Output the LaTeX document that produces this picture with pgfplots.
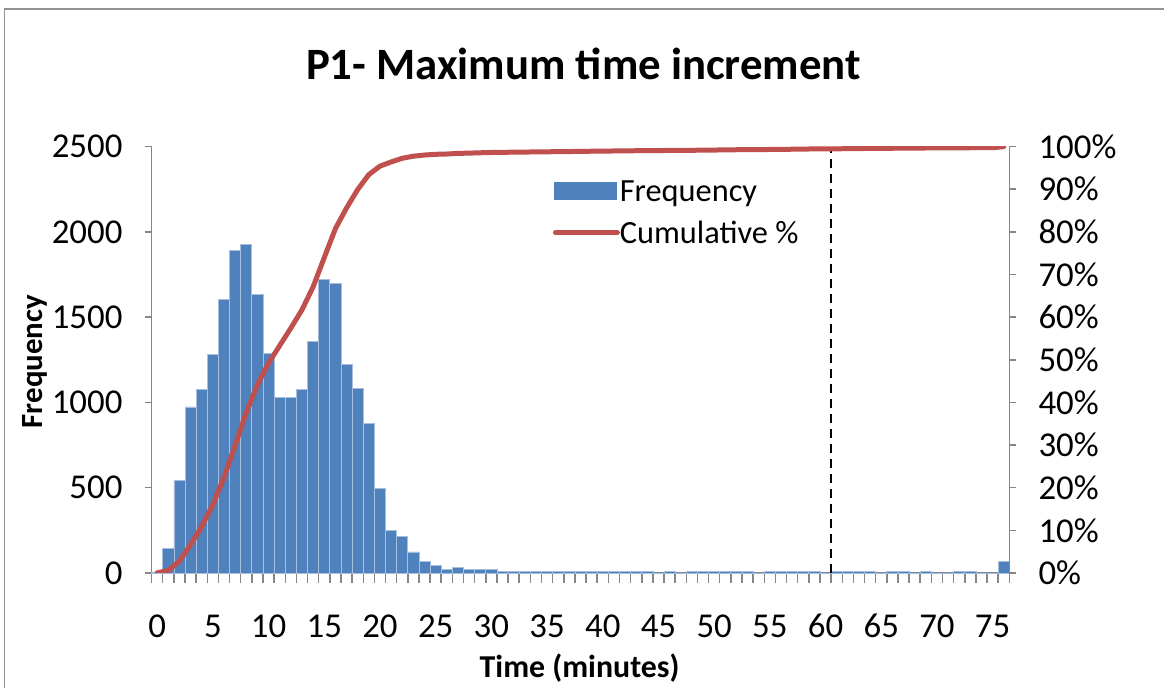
\documentclass[border=0pt]{standalone}
\usepackage{pgfplots}
\usepackage{pgfplotstable}
\pgfplotsset{compat=1.18}
\usepackage{fontspec}
\setmainfont{Carlito}

\definecolor{barblue}{RGB}{79,129,189}
\definecolor{baredge}{RGB}{167,191,222}
\definecolor{cumred}{RGB}{192,80,77}
\definecolor{axisgray}{RGB}{134,134,134}

\newcommand{\tickfont}{\fontsize{35}{40}\selectfont}
\newcommand{\legendfont}{\fontsize{32.5}{38}\selectfont}

% bin (minutes), count, cumulative share in percent
\pgfplotstableread{
bin freq cum
0 6 0.02
1 146 0.60
2 543 2.76
3 973 6.64
4 1074 10.92
5 1279 16.01
6 1605 22.41
7 1890 29.93
8 1924 37.60
9 1631 44.10
10 1289 49.23
11 1029 53.33
12 1029 57.43
13 1074 61.71
14 1357 67.11
15 1723 73.98
16 1699 80.75
17 1221 85.61
18 1084 89.93
19 879 93.43
20 498 95.41
21 248 96.40
22 215 97.26
23 123 97.75
24 68 98.02
25 43 98.19
26 19 98.26
27 33 98.40
28 19 98.47
29 19 98.55
30 19 98.62
31 8 98.65
32 8 98.69
33 8 98.72
34 8 98.75
35 8 98.78
36 8 98.81
37 8 98.84
38 8 98.88
39 8 98.91
40 8 98.94
41 8 98.97
42 8 99.00
43 8 99.03
44 8 99.07
45 0 99.07
46 8 99.10
47 0 99.10
48 8 99.13
49 8 99.16
50 8 99.19
51 8 99.23
52 8 99.26
53 8 99.29
54 0 99.29
55 8 99.32
56 8 99.35
57 8 99.38
58 8 99.42
59 8 99.45
60 0 99.45
61 8 99.48
62 8 99.51
63 8 99.54
64 8 99.57
65 0 99.57
66 8 99.61
67 8 99.64
68 0 99.64
69 8 99.67
70 0 99.67
71 0 99.67
72 8 99.70
73 8 99.73
74 0 99.73
75 0 99.73
76 68 100.00
}\histdata

% threshold marker at the 60-minute bin edge
\pgfplotstableread{
x y
60.5 0
60.5 2500
}\limitline

\begin{document}
\begin{tikzpicture}[x=1bp,y=1bp]
% page extent
\path (0,0) rectangle (1165,688);
% chart area frame
\draw[axisgray!90, line width=1.5bp] (4.5,0) -- (4.5,679) -- (1165,679);

\node[anchor=base, inner sep=0pt, font=\fontsize{45}{54}\selectfont\bfseries] at (584,608) {P1- Maximum time increment};
\node[anchor=base, inner sep=0pt, font=\fontsize{32}{38}\selectfont\bfseries] at (580,10) {Time (minutes)};
\node[anchor=base, inner sep=0pt, rotate=90, font=\fontsize{31}{37}\selectfont\bfseries] at (42.7,326) {Frequency};

\begin{axis}[
  at={(151.7bp,114.7bp)}, anchor=south west,
  scale only axis, width=858.3bp, height=426.6bp,
  xmin=-0.5, xmax=76.5, ymin=0, ymax=2500,
  axis x line=bottom, axis y line=left,
  axis line style={-, axisgray, line width=1.5bp},
  tick align=outside,
  xtick={0,5,...,75},
  major x tick style={draw=none},
  minor xtick={-0.5,0.5,...,76.5},
  minor tick length=10bp,
  major tick length=7bp,
  every tick/.style={axisgray, line width=1.5bp},
  minor x tick style={axisgray, line width=1.5bp},
  ytick={0,500,1000,1500,2000,2500},
  yticklabels={0,500,1000,1500,2000,2500},
  xticklabel style={font=\tickfont, anchor=base, inner sep=0pt, yshift=-57.4bp},
  yticklabel style={font=\tickfont, anchor=east, inner sep=0pt, xshift=-22bp},
  /pgf/number format/assume math mode=true,
  ybar, bar width=1,
  clip=false,
]
\addplot[fill=barblue, draw=baredge, line width=0.75bp, bar shift=0pt] table[x=bin, y=freq] {\histdata};
\addplot[black, line width=1.5bp, dash pattern=on 9bp off 6bp, sharp plot] table[x=x, y=y] {\limitline};
\end{axis}

\begin{axis}[
  at={(151.7bp,114.7bp)}, anchor=south west,
  scale only axis, width=858.3bp, height=426.6bp,
  xmin=-0.5, xmax=76.5, ymin=0, ymax=100,
  axis x line=none, axis y line=right,
  axis line style={-, axisgray, line width=1.5bp},
  tick align=outside,
  major tick length=7bp,
  every tick/.style={axisgray, line width=1.5bp},
  ytick={0,10,...,100},
  yticklabels={0\%,10\%,20\%,30\%,40\%,50\%,60\%,70\%,80\%,90\%,100\%},
  yticklabel style={font=\tickfont, anchor=west, inner sep=0pt, xshift=22bp},
  legend style={
    at={(0.4676,0.922)}, anchor=north west,
    draw=none, fill=none, inner sep=0pt,
    font=\legendfont,
    row sep=21bp,
    nodes={inner sep=0pt, text height=21bp, text depth=0bp},
    cells={anchor=west},
    /tikz/every even column/.append style={column sep=8bp},
  },
]
\addlegendimage{legend image code/.code={\fill[barblue] (0bp,-8.7bp) rectangle (62bp,8.7bp);}}
\addlegendentry{Frequency}
\addplot[cumred, line width=5bp, line join=round, line cap=round, mark=none,
  legend image code/.code={\draw[cumred, line width=5bp, line cap=round] (1bp,0bp) -- (63bp,0bp);}]
  table[x=bin, y=cum] {\histdata};
\addlegendentry{Cumulative~\%}
\end{axis}
\end{tikzpicture}
\end{document}
